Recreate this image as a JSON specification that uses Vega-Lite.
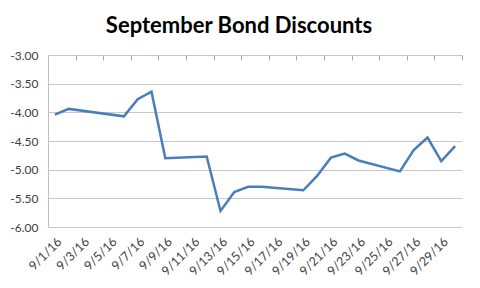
{
  "$schema": "https://vega.github.io/schema/vega-lite/v6.json",
  "width": 414,
  "height": 172,
  "autosize": "none",
  "padding": {"left": 48, "top": 55, "right": 18, "bottom": 61},
  "background": "white",
  "title": {
    "text": "September Bond Discounts",
    "font": "Lato",
    "fontSize": 22,
    "fontWeight": "bold",
    "color": "#000000",
    "anchor": "middle",
    "frame": "group",
    "baseline": "alphabetic",
    "offset": 22,
    "dy": 28,
    "dx": -16
  },
  "config": {
    "view": {"stroke": null},
    "axis": {"labelFont": "Lato", "labelColor": "#404040"}
  },
  "data": {
    "values": [
      {"date": "2016-09-01", "value": -4.04},
      {"date": "2016-09-02", "value": -3.94},
      {"date": "2016-09-06", "value": -4.07},
      {"date": "2016-09-07", "value": -3.77},
      {"date": "2016-09-08", "value": -3.64},
      {"date": "2016-09-09", "value": -4.80},
      {"date": "2016-09-12", "value": -4.77},
      {"date": "2016-09-13", "value": -5.72},
      {"date": "2016-09-14", "value": -5.39},
      {"date": "2016-09-15", "value": -5.30},
      {"date": "2016-09-16", "value": -5.30},
      {"date": "2016-09-19", "value": -5.36},
      {"date": "2016-09-20", "value": -5.11},
      {"date": "2016-09-21", "value": -4.79},
      {"date": "2016-09-22", "value": -4.72},
      {"date": "2016-09-23", "value": -4.84},
      {"date": "2016-09-26", "value": -5.03},
      {"date": "2016-09-27", "value": -4.66},
      {"date": "2016-09-28", "value": -4.44},
      {"date": "2016-09-29", "value": -4.85},
      {"date": "2016-09-30", "value": -4.59}
    ]
  },
  "layer": [
    {
      "mark": {"type": "line", "color": "#4A7EBB", "strokeWidth": 2.5},
      "encoding": {
        "x": {
          "field": "date",
          "timeUnit": "utcyearmonthdate",
          "type": "temporal",
          "bandPosition": 0.5,
          "scale": {
            "domain": [
              {"year": 2016, "month": 9, "date": 1, "utc": true},
              {"year": 2016, "month": 10, "date": 1, "utc": true}
            ]
          },
          "axis": {
            "orient": "bottom",
            "title": null,
            "grid": false,
            "domain": false,
            "ticks": false,
            "labelAngle": -45,
            "labelFontSize": 12.5,
            "labelPadding": 8,
            "labelExpr": "utcFormat(datum.value, '%-m/%-d/%y')",
            "labelOverlap": false,
            "values": [
              {"year": 2016, "month": 9, "date": 1, "hours": 12, "utc": true},
              {"year": 2016, "month": 9, "date": 3, "hours": 12, "utc": true},
              {"year": 2016, "month": 9, "date": 5, "hours": 12, "utc": true},
              {"year": 2016, "month": 9, "date": 7, "hours": 12, "utc": true},
              {"year": 2016, "month": 9, "date": 9, "hours": 12, "utc": true},
              {"year": 2016, "month": 9, "date": 11, "hours": 12, "utc": true},
              {"year": 2016, "month": 9, "date": 13, "hours": 12, "utc": true},
              {"year": 2016, "month": 9, "date": 15, "hours": 12, "utc": true},
              {"year": 2016, "month": 9, "date": 17, "hours": 12, "utc": true},
              {"year": 2016, "month": 9, "date": 19, "hours": 12, "utc": true},
              {"year": 2016, "month": 9, "date": 21, "hours": 12, "utc": true},
              {"year": 2016, "month": 9, "date": 23, "hours": 12, "utc": true},
              {"year": 2016, "month": 9, "date": 25, "hours": 12, "utc": true},
              {"year": 2016, "month": 9, "date": 27, "hours": 12, "utc": true},
              {"year": 2016, "month": 9, "date": 29, "hours": 12, "utc": true}
            ]
          }
        },
        "y": {
          "field": "value",
          "type": "quantitative",
          "scale": {"domain": [-6, -3], "nice": false, "zero": false},
          "axis": {
            "title": null,
            "values": [-6, -5.5, -5, -4.5, -4, -3.5, -3],
            "labelExpr": "replace(format(datum.value, '.2f'), '\u2212', '-')",
            "labelFontSize": 12,
            "labelPadding": 10,
            "ticks": false,
            "domain": true,
            "domainColor": "#bfbfbf",
            "grid": true,
            "gridColor": "#c8c8c8",
            "gridWidth": 1
          }
        }
      }
    },
    {
      "mark": {"type": "rule", "opacity": 0},
      "encoding": {
        "x": {
          "field": "date",
          "timeUnit": "utcyearmonthdate",
          "type": "temporal",
          "scale": {
            "domain": [
              {"year": 2016, "month": 9, "date": 1, "utc": true},
              {"year": 2016, "month": 10, "date": 1, "utc": true}
            ]
          },
          "axis": {
            "orient": "top",
            "title": null,
            "labels": false,
            "grid": false,
            "domain": false,
            "ticks": true,
            "tickColor": "#a6a6a6",
            "tickWidth": 1,
            "tickSize": 5,
            "offset": -5,
            "values": [
              {"year": 2016, "month": 9, "date": 1, "utc": true},
              {"year": 2016, "month": 9, "date": 3, "utc": true},
              {"year": 2016, "month": 9, "date": 5, "utc": true},
              {"year": 2016, "month": 9, "date": 7, "utc": true},
              {"year": 2016, "month": 9, "date": 9, "utc": true},
              {"year": 2016, "month": 9, "date": 11, "utc": true},
              {"year": 2016, "month": 9, "date": 13, "utc": true},
              {"year": 2016, "month": 9, "date": 15, "utc": true},
              {"year": 2016, "month": 9, "date": 17, "utc": true},
              {"year": 2016, "month": 9, "date": 19, "utc": true},
              {"year": 2016, "month": 9, "date": 21, "utc": true},
              {"year": 2016, "month": 9, "date": 23, "utc": true},
              {"year": 2016, "month": 9, "date": 25, "utc": true},
              {"year": 2016, "month": 9, "date": 27, "utc": true},
              {"year": 2016, "month": 9, "date": 29, "utc": true},
              {"year": 2016, "month": 10, "date": 1, "utc": true}
            ]
          }
        }
      }
    }
  ],
  "resolve": {"scale": {"x": "independent"}, "axis": {"x": "independent"}}
}
